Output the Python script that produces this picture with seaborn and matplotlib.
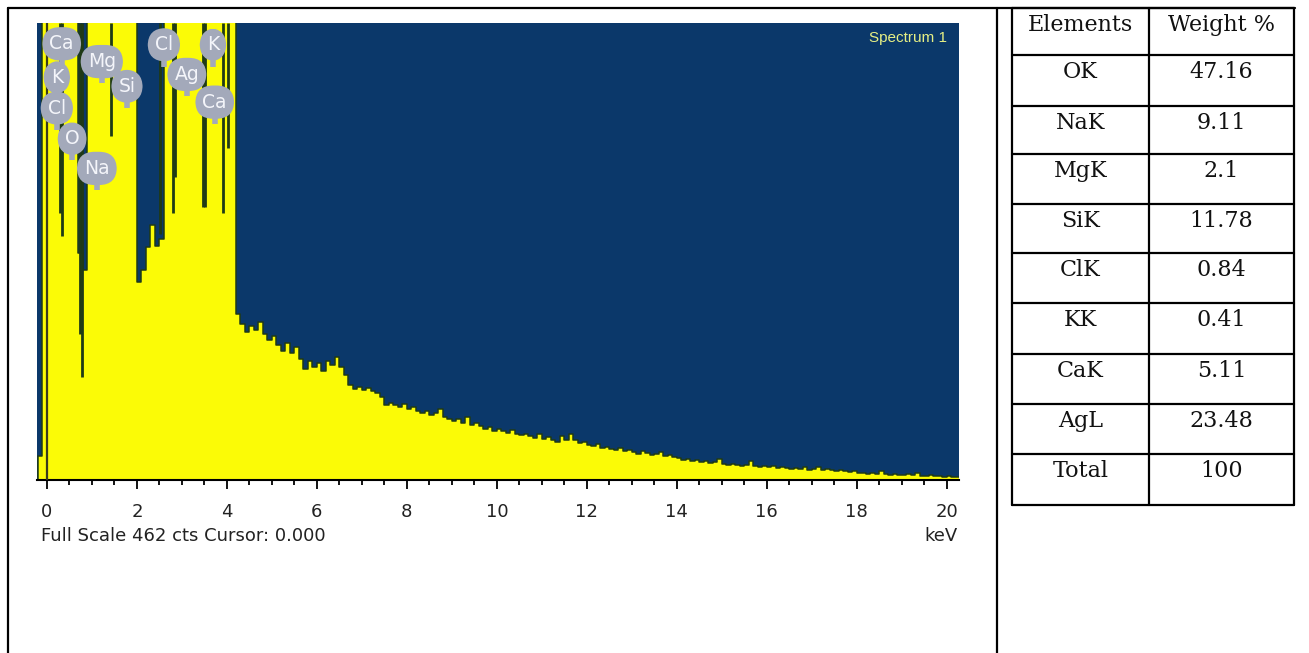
import numpy as np
import pandas as pd
import seaborn as sns
import matplotlib
matplotlib.use("Agg")
import matplotlib.pyplot as plt

# ---------------- data ----------------
# spectrum counts in 0.1 keV channels, first channel starts at -0.2 keV
# (values above 462 are off full scale)
counts = (
    [24, 600]
    + [900, 1200, 1500, 1400, 2200, 2600, 900, 229, 212, 700]      # 0.0-0.9
    + [1400, 900, 800, 650, 560, 620, 1100, 1800, 1200, 520]       # 1.0-1.9
    + [200, 212, 236, 258, 237, 244, 520, 700, 800, 1100]          # 2.0-2.9
    + [900, 700, 650, 600, 560, 540, 600, 700, 560, 520]           # 3.0-3.9
    + [500, 480, 168, 158, 150, 156, 152, 160, 148, 142]           # 4.0-4.9
    + [146, 136, 130, 138, 128, 134, 122, 112, 120, 114]           # 5.0-5.9
    + [118, 110, 120, 116, 124, 114, 106, 96, 92, 94]              # 6.0-6.9
    + [91, 93, 90, 88, 84, 76, 78, 76, 74, 77]                     # 7.0-7.9
    + [72, 74, 70, 68, 70, 66, 68, 72, 64, 62]                     # 8.0-8.9
    + [60, 62, 58, 64, 56, 58, 55, 52, 54, 50]                     # 9.0-9.9
    + [52, 50, 48, 51, 46, 45, 47, 44, 42, 46]                     # 10.0-10.9
    + [41, 43, 40, 38, 44, 40, 46, 40, 37, 38]                     # 11.0-11.9
    + [35, 34, 36, 32, 33, 31, 30, 32, 29, 30]                     # 12.0-12.9
    + [28, 26, 29, 27, 25, 26, 28, 24, 25, 23]                     # 13.0-13.9
    + [22, 20, 21, 19, 20, 18, 19, 17, 18, 21]                     # 14.0-14.9
    + [16, 15, 16, 15, 14, 15, 19, 14, 13, 14]                     # 15.0-15.9
    + [13, 14, 12, 13, 12, 11, 12, 11, 13, 10]                     # 16.0-16.9
    + [11, 13, 10, 11, 10, 9, 10, 9, 8, 9]                         # 17.0-17.9
    + [7, 7, 6, 7, 6, 9, 6, 5, 6, 5]                               # 18.0-18.9
    + [5, 6, 5, 7, 4, 4, 5, 4, 4, 3]                               # 19.0-19.9
    + [4, 3, 3]                                                    # 20.0-20.2
)
full_scale = 462

# dark marker lines hanging from the top (energy keV, lower end in counts)
marker_kev = [0.29, 0.34, 0.745, 0.775, 1.42, 2.51, 2.80, 2.84, 3.48, 3.52, 3.92, 4.02]
marker_low = [270, 247, 148, 104, 348, 249, 270, 306, 276, 276, 270, 336]

# element label balloons
label_text = ["Ca", "K", "Cl", "O", "Na", "Mg", "Si", "Cl", "K", "Ag", "Ca"]
label_kev = [0.33, 0.22, 0.22, 0.56, 1.11, 1.22, 1.78, 2.60, 3.69, 3.11, 3.73]
label_cts = [441, 407, 376, 345, 315, 423, 398, 440, 440, 410, 382]

tick_values = [0, 2, 4, 6, 8, 10, 12, 14, 16, 18, 20]
tick_labels = ["0", "2", "4", "6", "8", "10", "12", "14", "16", "18", "20"]

# table
elements = ["OK", "NaK", "MgK", "SiK", "ClK", "KK", "CaK", "AgL", "Total"]
weights = ["47.16", "9.11", "2.1", "11.78", "0.84", "0.41", "5.11", "23.48", "100"]
table_header = ["Elements", "Weight %"]

# ---------------- figure ----------------
W, H = 1309, 653
sns.set_style("white")
plt.rcParams["font.family"] = ["DejaVu Sans"]
fig = plt.figure(figsize=(W / 100, H / 100), dpi=100)
fig.patch.set_facecolor("white")

NAVY = "#0b386a"
YEL = "#fbfb06"
DARK = "#1f3a16"
BUBBLE = "#a3a9ba"

def px_axes(l, t, r, b):
    return [l / W, 1 - b / H, (r - l) / W, (b - t) / H]

ax = fig.add_axes(px_axes(37, 23, 959, 480))
ax.set_facecolor(NAVY)

n = len(counts)
centers = np.round(-0.15 + 0.1 * np.arange(n), 2)
df = pd.DataFrame({"energy": centers, "counts": counts})

sns.histplot(data=df, x="energy", weights="counts", binwidth=0.1,
             binrange=(-0.2, -0.2 + 0.1 * n), element="step",
             fill=True, color=YEL, alpha=1, edgecolor=DARK, linewidth=1.1, ax=ax)

ax.vlines(marker_kev, marker_low, full_scale, color=DARK, lw=2.0, zorder=3)
ax.vlines([0.0], 0, full_scale, color="#3a3b1c", lw=1.6, zorder=3)  # cursor

for t, x, y in zip(label_text, label_kev, label_cts):
    ax.plot([x, x], [y - 14, y - 22], color=BUBBLE, lw=4, zorder=5,
            solid_capstyle="butt")
    ax.text(x, y, t, ha="center", va="center", color="#f4f5fa", fontsize=13.5,
            family="DejaVu Sans", zorder=6,
            bbox=dict(boxstyle="round,pad=0.38,rounding_size=0.95", fc=BUBBLE, ec="none"))

ax.text(20.0, 447, "Spectrum 1", ha="right", va="center", color="#e6ef84",
        fontsize=11, family="Liberation Sans")

ax.set_xlim(-0.22, 20.27)
ax.set_ylim(0, full_scale)
ax.set_xlabel("")
ax.set_ylabel("")
ax.set_yticks([])
ax.set_xticks(tick_values)
ax.set_xticklabels(tick_labels, family="DejaVu Sans", fontsize=13, color="#222222")
ax.set_xticks(np.arange(0, 20.01, 0.5), minor=True)
ax.tick_params(axis="x", which="major", direction="out", length=6.5, width=1.3,
               color="black", pad=10, bottom=True)
ax.tick_params(axis="x", which="minor", direction="out", length=3.6, width=1.3,
               color="black", bottom=True)
for s in ["left", "right", "top"]:
    ax.spines[s].set_visible(False)
ax.spines["bottom"].set_color("black")
ax.spines["bottom"].set_linewidth(1.5)

fig.text(41 / W, 1 - 536 / H, "Full Scale 462 cts Cursor: 0.000", ha="left", va="center",
         fontsize=13, family="DejaVu Sans", color="#222222")
fig.text(958 / W, 1 - 536 / H, "keV", ha="right", va="center",
         fontsize=13, family="DejaVu Sans", color="#222222")

# ---------------- frame and table ----------------
ov = fig.add_axes([0, 0, 1, 1], zorder=10)
ov.set_xlim(0, W)
ov.set_ylim(H, 0)
ov.axis("off")
ov.patch.set_alpha(0)
lw = 1.6
ov.plot([8, 1295], [8, 8], color="black", lw=lw)
ov.plot([8, 8], [8, H], color="black", lw=lw)
ov.plot([997, 997], [8, H], color="black", lw=lw)

tl, tm, tr = 1012, 1149, 1294
row_edges = [8, 55, 106, 154, 204, 253, 303, 354, 404, 454, 505]
for y in row_edges:
    ov.plot([tl, tr], [y, y], color="black", lw=lw)
for x in [tl, tm, tr]:
    ov.plot([x, x], [row_edges[0], row_edges[-1]], color="black", lw=lw)

serif = dict(family="DejaVu Serif", fontsize=16, ha="center", va="center", color="#111111")
c1, c2 = (tl + tm) / 2, (tm + tr) / 2
ov.text(c1, row_edges[0] + 17, table_header[0], **serif)
ov.text(c2, row_edges[0] + 17, table_header[1], **serif)
for i, (e, w) in enumerate(zip(elements, weights)):
    y = row_edges[i + 1] + 17
    ov.text(c1, y, e, **serif)
    ov.text(c2, y, w, **serif)

fig.savefig("out.png", dpi=100, facecolor="white")
